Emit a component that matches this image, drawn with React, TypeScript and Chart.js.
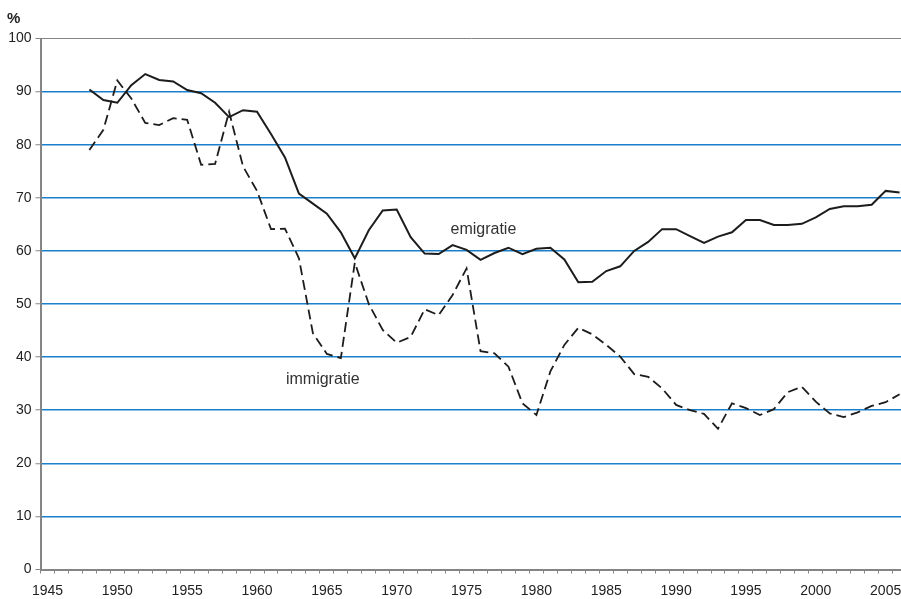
import React, { useEffect, useRef } from 'react';
import { Chart, registerables } from 'chart.js';

Chart.register(...registerables);

const years = [
  1948, 1949, 1950, 1951, 1952, 1953, 1954, 1955, 1956, 1957,
  1958, 1959, 1960, 1961, 1962, 1963, 1964, 1965, 1966, 1967,
  1968, 1969, 1970, 1971, 1972, 1973, 1974, 1975, 1976, 1977,
  1978, 1979, 1980, 1981, 1982, 1983, 1984, 1985, 1986, 1987,
  1988, 1989, 1990, 1991, 1992, 1993, 1994, 1995, 1996, 1997,
  1998, 1999, 2000, 2001, 2002, 2003, 2004, 2005, 2006,
];

const emigratie = [
  90.4, 88.4, 87.9, 91.2, 93.3, 92.2, 91.9, 90.3, 89.7, 87.9,
  85.2, 86.5, 86.2, 82.0, 77.6, 70.8, 68.9, 67.0, 63.5, 58.6,
  63.9, 67.6, 67.8, 62.6, 59.5, 59.4, 61.1, 60.2, 58.3, 59.6,
  60.6, 59.4, 60.4, 60.6, 58.4, 54.1, 54.2, 56.2, 57.1, 60.0,
  61.7, 64.1, 64.1, 62.8, 61.5, 62.7, 63.5, 65.8, 65.8, 64.9,
  64.9, 65.1, 66.3, 67.9, 68.4, 68.4, 68.7, 71.3, 71.0,
];

const immigratie = [
  79.0, 82.8, 92.1, 88.7, 84.1, 83.7, 85.0, 84.7, 76.2, 76.4,
  86.2, 75.9, 71.3, 64.1, 64.2, 58.6, 44.5, 40.6, 39.8, 57.8,
  50.0, 45.1, 42.7, 43.8, 49.0, 47.9, 51.7, 56.7, 41.1, 40.7,
  38.2, 31.3, 29.1, 37.3, 42.3, 45.5, 44.3, 42.3, 40.1, 36.8,
  36.3, 34.1, 31.0, 30.0, 29.3, 26.5, 31.3, 30.4, 29.1, 30.2,
  33.4, 34.4, 31.6, 29.4, 28.7, 29.6, 30.8, 31.5, 33.0,
];

const xLabelYears = [1945, 1950, 1955, 1960, 1965, 1970, 1975, 1980, 1985, 1990, 1995, 2000, 2005];
const yTickValues = [0, 10, 20, 30, 40, 50, 60, 70, 80, 90, 100];
const unitLabel = '%';
const seriesLabels = ['emigratie', 'immigratie'];
// label anchor points in data coordinates [year, value]
const labelAnchors = [
  [1973.85, 63.1],
  [1962.07, 35.0],
];

const FONT = '"Liberation Sans", Arial, Helvetica, sans-serif';
const GRID_BLUE = '#1a80cc';
const AXIS_GREY = '#858585';
const LINE_COLOR = '#1c1c1c';

const isEdge = (ctx: any) => ctx.tick && (ctx.tick.value === 100 || ctx.tick.value === 0);

const textPlugin = {
  id: 'textLabels',
  afterDatasetsDraw(chart: any) {
    const { ctx, scales } = chart;
    ctx.save();
    ctx.fillStyle = '#222';
    ctx.font = `bold 15px ${FONT}`;
    ctx.textAlign = 'left';
    ctx.textBaseline = 'alphabetic';
    ctx.fillText(unitLabel, 7, 23);
    ctx.font = `16px ${FONT}`;
    ctx.fillStyle = '#333';
    seriesLabels.forEach((t, i) => {
      const [xv, yv] = labelAnchors[i];
      ctx.fillText(t, scales.x.getPixelForValue(xv), scales.y.getPixelForValue(yv));
    });
    ctx.restore();
  },
};

export default function App() {
  const ref = useRef<HTMLCanvasElement | null>(null);

  useEffect(() => {
    if (!ref.current) return;
    const chart = new Chart(ref.current, {
      type: 'line',
      data: {
        datasets: [
          {
            label: seriesLabels[0],
            data: years.map((yr, i) => ({ x: yr, y: emigratie[i] })),
            borderColor: LINE_COLOR,
            borderWidth: 2,
            pointRadius: 0,
            tension: 0,
            fill: false,
          },
          {
            label: seriesLabels[1],
            data: years.map((yr, i) => ({ x: yr, y: immigratie[i] })),
            borderColor: LINE_COLOR,
            borderWidth: 1.8,
            borderDash: [10, 5],
            pointRadius: 0,
            tension: 0,
            fill: false,
          },
        ],
      },
      options: {
        responsive: false,
        animation: false,
        events: [],
        layout: { padding: { top: 38.5, left: 0, right: 0, bottom: 0 } },
        plugins: {
          legend: { display: false },
          tooltip: { enabled: false },
          title: { display: false },
        },
        scales: {
          x: {
            type: 'linear',
            min: 1944.5,
            max: 2006.1,
            afterBuildTicks: (scale: any) => {
              const vals: number[] = [];
              for (let v = 1944.5; v <= 2006.1; v += 1) vals.push(v);
              xLabelYears.forEach((v) => vals.push(v));
              vals.sort((a, b) => a - b);
              scale.ticks = vals.map((v) => ({ value: v }));
            },
            afterFit: (scale: any) => {
              scale.height = 29.5;
              scale.paddingLeft = 0;
              scale.paddingRight = 0;
            },
            grid: {
              drawOnChartArea: false,
              drawTicks: true,
              tickLength: 4,
              tickWidth: 1,
              tickColor: (ctx: any) =>
                ctx.tick && Number.isInteger(ctx.tick.value) ? 'rgba(0,0,0,0)' : AXIS_GREY,
            },
            border: { display: true, color: AXIS_GREY, width: 2 },
            ticks: {
              autoSkip: false,
              maxRotation: 0,
              minRotation: 0,
              padding: 9,
              color: '#222',
              font: { family: FONT, size: 14 },
              callback: (v: any) => (xLabelYears.includes(Number(v)) ? String(v) : ''),
            },
          },
          y: {
            type: 'linear',
            min: 0,
            max: 100,
            afterBuildTicks: (scale: any) => {
              scale.ticks = yTickValues.map((v) => ({ value: v }));
            },
            afterFit: (scale: any) => {
              scale.width = 40.5;
            },
            grid: {
              drawTicks: true,
              tickLength: 5,
              tickWidth: 1,
              lineWidth: (ctx: any) => (isEdge(ctx) ? 1 : 1.5),
              color: (ctx: any) => (isEdge(ctx) ? AXIS_GREY : GRID_BLUE),
              tickColor: AXIS_GREY,
            },
            border: { display: true, color: AXIS_GREY, width: 2 },
            ticks: {
              padding: 4,
              color: '#222',
              font: { family: FONT, size: 14 },
              callback: (v: any) => String(v),
            },
          },
        },
      },
      plugins: [textPlugin],
    } as any);
    return () => chart.destroy();
  }, []);

  return (
    <div style={{ position: 'absolute', left: 0, top: 0, width: 901, height: 599, background: '#fff' }}>
      <canvas ref={ref} width={901} height={599} style={{ display: 'block' }} />
    </div>
  );
}
